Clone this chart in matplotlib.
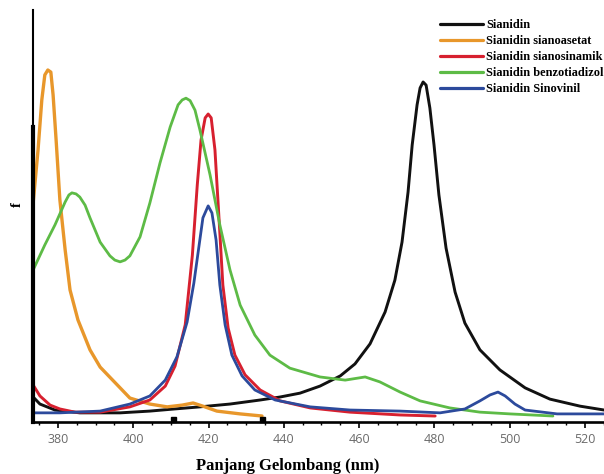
import matplotlib
matplotlib.use('Agg')
import matplotlib.pyplot as plt
from matplotlib.ticker import MultipleLocator

# data, wavelength in nm, intensity arbitrary
sianidin_nm = [373.4, 375.2, 379.2, 385.8, 396.5, 404.4, 409.8, 417.7, 425.7, 433.7,
               439.0, 444.3, 449.6, 455.0, 458.9, 462.9, 466.9, 469.5, 471.4, 473.0,
               474.1, 475.4, 476.2, 477.0, 477.8, 478.8, 479.9, 481.2, 483.1, 485.5,
               488.1, 492.1, 497.4, 504.1, 510.7, 518.7, 525.1]
sianidin_f = [7.1, 5.1, 3.4, 2.6, 2.6, 3.1, 3.6, 4.3, 5.1, 6.25,
              7.1, 8.2, 10.2, 13.1, 16.5, 22.2, 31.25, 40.3, 51.1, 65.3,
              78.7, 90.1, 94.9, 96.6, 95.7, 89.2, 78.7, 64.5, 49.4, 36.9,
              28.1, 20.5, 14.8, 9.7, 6.5, 4.5, 3.4]

sianoasetat_nm = [373.4, 374.7, 375.7, 376.5, 377.3, 378.1, 378.7, 379.5, 380.5, 381.9,
                  383.2, 385.3, 388.5, 391.2, 396.5, 399.1, 404.4, 409.0, 413.0, 415.9,
                  418.5, 422.2, 428.4, 434.2]
sianoasetat_f = [62.2, 77.3, 91.5, 98.6, 100.0, 99.4, 92.9, 80.1, 63.1, 48.9,
                 37.5, 29.0, 20.5, 15.6, 9.7, 6.8, 5.1, 4.3, 4.8, 5.4,
                 4.5, 3.1, 2.3, 1.7]

sianosinamik_nm = [373.4, 375.2, 377.9, 380.5, 384.5, 391.2, 399.1, 404.4, 408.5, 411.1,
                   413.8, 415.7, 417.0, 418.0, 419.1, 419.9, 420.7, 421.7, 422.8, 423.8,
                   425.2, 427.0, 429.7, 433.7, 439.0, 447.0, 457.6, 470.9, 480.2]
sianosinamik_f = [10.5, 7.4, 4.8, 3.7, 2.8, 2.8, 4.3, 6.25, 10.2, 15.9,
                  27.6, 47.4, 67.3, 80.1, 86.4, 87.5, 86.4, 77.3, 57.4, 38.9,
                  26.7, 19.0, 13.4, 9.1, 6.0, 4.0, 2.8, 2.0, 1.7]

benzotiadizol_nm = [373.4, 376.5, 379.2, 381.9, 382.9, 383.7, 384.8, 385.8, 387.2, 388.5,
                    391.2, 393.8, 395.1, 396.5, 397.8, 399.1, 401.8, 404.4, 407.1, 409.8,
                    411.9, 413.0, 414.0, 415.1, 416.4, 417.7, 420.4, 423.0, 425.7, 428.4,
                    432.3, 436.3, 441.6, 449.6, 456.3, 461.6, 465.5, 470.9, 476.2, 484.1,
                    492.1, 500.1, 511.5]
benzotiadizol_f = [43.2, 50.3, 56.0, 62.5, 64.5, 65.1, 64.8, 63.9, 61.6, 58.0,
                   51.1, 47.2, 46.0, 45.5, 46.0, 47.2, 52.6, 62.2, 73.6, 83.8,
                   90.1, 91.5, 92.0, 91.3, 88.6, 83.0, 70.2, 56.0, 43.2, 33.2,
                   24.7, 19.0, 15.3, 12.8, 11.9, 12.8, 11.4, 8.5, 6.0, 4.0,
                   2.8, 2.3, 1.7]

sinovinil_nm = [373.4, 380.5, 391.2, 399.1, 404.4, 408.5, 411.6, 414.3, 416.1, 417.5,
                418.5, 419.9, 420.9, 422.0, 423.0, 424.4, 426.2, 428.9, 432.3, 437.7,
                447.0, 457.6, 470.9, 481.5, 488.1, 492.1, 494.8, 496.9, 498.8, 501.4,
                504.1, 512.6, 525.1]
sinovinil_f = [2.6, 2.6, 3.1, 5.1, 7.4, 11.9, 18.5, 28.4, 39.5, 50.3,
               58.0, 61.4, 59.4, 51.7, 38.9, 27.6, 19.0, 13.1, 9.1, 6.25,
               4.3, 3.4, 3.1, 2.6, 3.7, 6.0, 7.7, 8.5, 7.4, 5.1,
               3.4, 2.3, 2.3]

# small square markers sitting on the x axis
marker_nm = [410.6, 434.2]
marker_f = [0.85, 0.85]

series = [
    ('Sianidin', sianidin_nm, sianidin_f, '#111111', 2.1),
    ('Sianidin sianoasetat', sianoasetat_nm, sianoasetat_f, '#E8972B', 2.4),
    ('Sianidin sianosinamik', sianosinamik_nm, sianosinamik_f, '#D7202F', 2.1),
    ('Sianidin benzotiadizol', benzotiadizol_nm, benzotiadizol_f, '#5DBB46', 2.0),
    ('Sianidin Sinovinil', sinovinil_nm, sinovinil_f, '#2C4A9C', 2.0),
]

fig = plt.figure(figsize=(6.04, 4.74), dpi=100)
ax = fig.add_axes([33 / 604, 52 / 474, 571 / 604, 412 / 474])

for name, xs, ys, color, lw in series:
    ax.plot(xs, ys, color=color, lw=lw, label=name,
            solid_capstyle='round', solid_joinstyle='round')

ax.plot(marker_nm, marker_f, 's', color='black', ms=3.6, clip_on=False, zorder=5)

ax.set_xlim(373.36, 525.06)
ax.set_ylim(0, 117.05)

ax.spines['top'].set_visible(False)
ax.spines['right'].set_visible(False)
ax.spines['left'].set_linewidth(1.5)
ax.spines['bottom'].set_linewidth(1.9)
# thicker lower part of the left axis line
ax.axvline(373.36, ymin=0, ymax=0.716, color='black', lw=3, clip_on=False)

ax.xaxis.set_major_locator(MultipleLocator(20))
ax.xaxis.set_minor_locator(MultipleLocator(5))
ax.tick_params(axis='x', which='major', direction='out', length=4, width=1.2,
               pad=4, labelsize=9, labelcolor='#6a6a6a')
ax.tick_params(axis='x', which='minor', direction='out', length=2.5, width=1.0)
ax.set_yticks([])
for lab in ax.get_xticklabels():
    lab.set_fontfamily('Open Sans')

fig.text(288 / 604, 1 - 466 / 474, 'Panjang Gelombang (nm)', ha='center', va='center',
         fontsize=12, fontweight='bold', family='Liberation Serif')
fig.text(17 / 604, 1 - 205 / 474, 'f', ha='center', va='center', rotation=90,
         fontsize=10.5, fontweight='bold', family='Liberation Serif')

leg = ax.legend(loc='upper left', bbox_to_anchor=(440 / 604, 1 - 19 / 474),
                bbox_transform=fig.transFigure, frameon=False,
                prop={'family': 'Liberation Serif', 'weight': 'bold', 'size': 8.8},
                handlelength=3.5, handletextpad=0.3, labelspacing=0.33,
                borderpad=0, borderaxespad=0)
for line in leg.get_lines():
    line.set_linewidth(2.3)

plt.savefig('out.png', dpi=100)
